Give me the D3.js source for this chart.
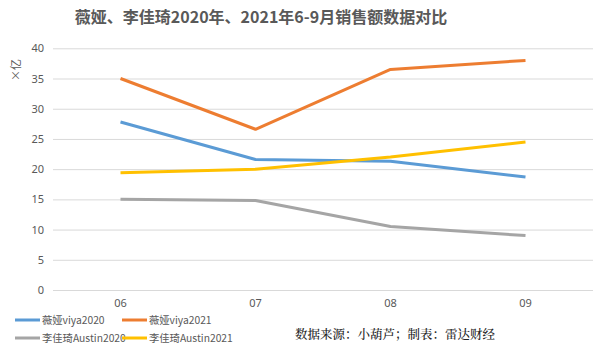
<!DOCTYPE html>
<html><head><meta charset="utf-8">
<script src="https://cdn.jsdelivr.net/npm/d3@7"></script>
<style>body{margin:0;background:#fff;}svg{display:block;font-family:"Noto Sans CJK SC","Noto Sans",sans-serif;}</style>
</head><body><svg id="c" width="604" height="351"></svg>
<script>
const months = ["06","07","08","09"];
const viya2020 = [27.8, 21.6, 21.3, 18.7];
const viya2021 = [35.0, 26.6, 36.5, 38.0];
const austin2020 = [15.0, 14.8, 10.5, 9.0];
const austin2021 = [19.4, 20.0, 22.0, 24.5];
const seriesNames = ["薇娅viya2020","薇娅viya2021","李佳琦Austin2020","李佳琦Austin2021"];
const yTicks = [0,5,10,15,20,25,30,35,40];
const colors = ["#5B9BD5","#ED7D31","#A5A5A5","#FFC000"];
const seriesData = [viya2020, viya2021, austin2020, austin2021];

const svg = d3.select("#c");
const x = d3.scaleBand().domain(months).range([53,593]);
const y = d3.scaleLinear().domain([0,40]).range([290,48.3]);

svg.append("text").attr("x",261).attr("y",23).attr("text-anchor","middle")
  .attr("font-size",16).attr("font-weight","bold").attr("fill","#595959")
  .text("薇娅、李佳琦2020年、2021年6-9月销售额数据对比");

const ya = svg.append("g").attr("transform","translate(53,0)")
  .call(d3.axisLeft(y).tickValues(yTicks).tickSize(-540).tickPadding(9));
ya.select(".domain").remove();
ya.selectAll("line").attr("stroke","#D9D9D9");
ya.selectAll("text").attr("fill","#595959").attr("font-size",11).attr("font-family","'Noto Sans',sans-serif");

const xa = svg.append("g").attr("transform","translate(0,290)")
  .call(d3.axisBottom(x).tickSize(0).tickPadding(9));
xa.select(".domain").remove();
xa.selectAll("text").attr("fill","#595959").attr("font-size",11).attr("font-family","'Noto Sans',sans-serif");

svg.append("text").attr("transform","translate(20,70) rotate(-90)").attr("text-anchor","middle")
  .attr("font-size",11).attr("fill","#595959").text("×亿");

const line = d3.line().x((d,i)=>x(months[i])+x.bandwidth()/2).y(d=>y(d));
seriesData.forEach((s,i)=>{
  svg.append("path").datum(s).attr("d",line).attr("fill","none")
    .attr("stroke",colors[i]).attr("stroke-width",3).attr("stroke-linejoin","round");
});

const lg = [[15,320],[122,320],[15,338],[122,338]];
seriesNames.forEach((n,i)=>{
  const [lx,ly]=lg[i];
  svg.append("line").attr("x1",lx).attr("x2",lx+25).attr("y1",ly).attr("y2",ly)
    .attr("stroke",colors[i]).attr("stroke-width",3);
  svg.append("text").attr("x",lx+27).attr("y",ly+4).attr("font-size",10.3)
    .attr("fill","#595959").text(n);
});

svg.append("text").attr("x",295).attr("y",339).attr("font-size",12.5)
  .attr("fill","#222").attr("font-weight",500).attr("font-family","'Noto Serif CJK SC','Noto Sans CJK SC',serif")
  .text("数据来源：小葫芦；制表：雷达财经");
</script></body></html>
